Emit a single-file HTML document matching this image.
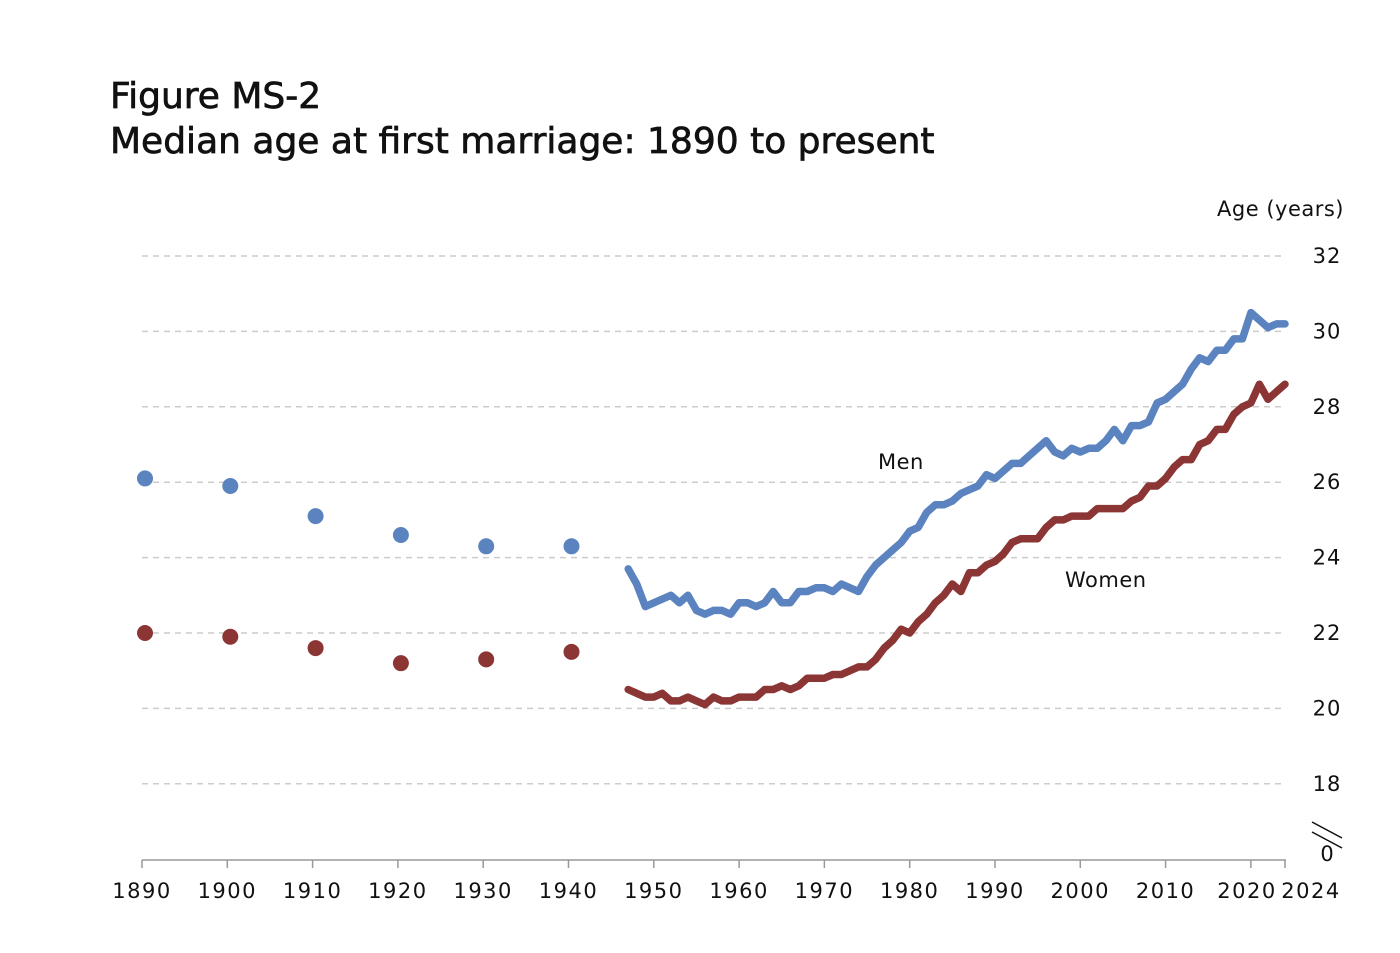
<!DOCTYPE html>
<html><head><meta charset="utf-8"><style>
body{margin:0;background:#fff;}
svg text{font-family:"DejaVu Sans","Liberation Sans",sans-serif;fill:#111;}
</style></head><body>
<svg id="s" width="1400" height="948" xmlns="http://www.w3.org/2000/svg">
<text x="110" y="108" font-size="36" stroke="#111" stroke-width="0.7">Figure MS-2</text>
<text x="110" y="153" font-size="36" stroke="#111" stroke-width="0.7">Median age at first marriage: 1890 to present</text>
<text x="1344" y="216" font-size="21" text-anchor="end" letter-spacing="0.5">Age (years)</text>
<g id="grid"></g>
<line x1="142" y1="860" x2="1286" y2="860" stroke="#999" stroke-width="1.5"/>
<g id="ticks"></g>
<line x1="1312" y1="822" x2="1342" y2="838" stroke="#111" stroke-width="1.5"/>
<line x1="1312" y1="832" x2="1342" y2="848" stroke="#111" stroke-width="1.5"/>
<text x="1327" y="861" font-size="21" text-anchor="middle">0</text>
<text x="878" y="469" font-size="21" letter-spacing="0.5">Men</text>
<text x="1065" y="587" font-size="21" letter-spacing="0.5">Women</text>
<g id="series"></g>
</svg>
<script>
var X=function(y){return 142+(y-1890)*1143/134;};
var Y=function(v){return 256+(32-v)*37.7;};
var ns="http://www.w3.org/2000/svg";
function el(p,t,a,txt){var e=document.createElementNS(ns,t);for(var k in a)e.setAttribute(k,a[k]);if(txt!==undefined)e.textContent=txt;document.getElementById(p).appendChild(e);}
for(var v=18;v<=32;v+=2){el("grid","line",{x1:142,x2:1286,y1:Y(v),y2:Y(v),stroke:"#ccc","stroke-width":1.5,"stroke-dasharray":"6,5"});el("grid","text",{x:1327,y:Y(v)+7,"font-size":21,"text-anchor":"middle","letter-spacing":1},v);}
var yrs=[1890,1900,1910,1920,1930,1940,1950,1960,1970,1980,1990,2000,2010,2020,2024];
yrs.forEach(function(y){el("ticks","line",{x1:X(y),x2:X(y),y1:860,y2:868,stroke:"#999","stroke-width":1.5});var lx=X(y);if(y==2020)lx=1247;if(y==2024)lx=1311;el("ticks","text",{x:lx,y:898,"font-size":21,"text-anchor":"middle","letter-spacing":1.5},y);});
var m=[23.7,23.3,22.7,22.8,22.9,23.0,22.8,23.0,22.6,22.5,22.6,22.6,22.5,22.8,22.8,22.7,22.8,23.1,22.8,22.8,23.1,23.1,23.2,23.2,23.1,23.3,23.2,23.1,23.5,23.8,24.0,24.2,24.4,24.7,24.8,25.2,25.4,25.4,25.5,25.7,25.8,25.9,26.2,26.1,26.3,26.5,26.5,26.7,26.9,27.1,26.8,26.7,26.9,26.8,26.9,26.9,27.1,27.4,27.1,27.5,27.5,27.6,28.1,28.2,28.4,28.6,29.0,29.3,29.2,29.5,29.5,29.8,29.8,30.5,30.3,30.1,30.2,30.2];
var w=[20.5,20.4,20.3,20.3,20.4,20.2,20.2,20.3,20.2,20.1,20.3,20.2,20.2,20.3,20.3,20.3,20.5,20.5,20.6,20.5,20.6,20.8,20.8,20.8,20.9,20.9,21.0,21.1,21.1,21.3,21.6,21.8,22.1,22.0,22.3,22.5,22.8,23.0,23.3,23.1,23.6,23.6,23.8,23.9,24.1,24.4,24.5,24.5,24.5,24.8,25.0,25.0,25.1,25.1,25.1,25.3,25.3,25.3,25.3,25.5,25.6,25.9,25.9,26.1,26.4,26.6,26.6,27.0,27.1,27.4,27.4,27.8,28.0,28.1,28.6,28.2,28.4,28.6];
function line(d,c){var p=d.map(function(v,i){return X(1947+i).toFixed(1)+","+Y(v).toFixed(1);}).join(" ");el("series","polyline",{points:p,fill:"none",stroke:c,"stroke-width":7.5,"stroke-linejoin":"round","stroke-linecap":"round"});}
line(m,"#5a83c0");line(w,"#8b3535");
var dm=[26.1,25.9,25.1,24.6,24.3,24.3],dw=[22.0,21.9,21.6,21.2,21.3,21.5];
for(var i=0;i<6;i++){el("series","circle",{cx:X(1890+10*i)+3,cy:Y(dm[i]),r:8,fill:"#5a83c0"});el("series","circle",{cx:X(1890+10*i)+3,cy:Y(dw[i]),r:8,fill:"#8b3535"});}
</script>
</body></html>
